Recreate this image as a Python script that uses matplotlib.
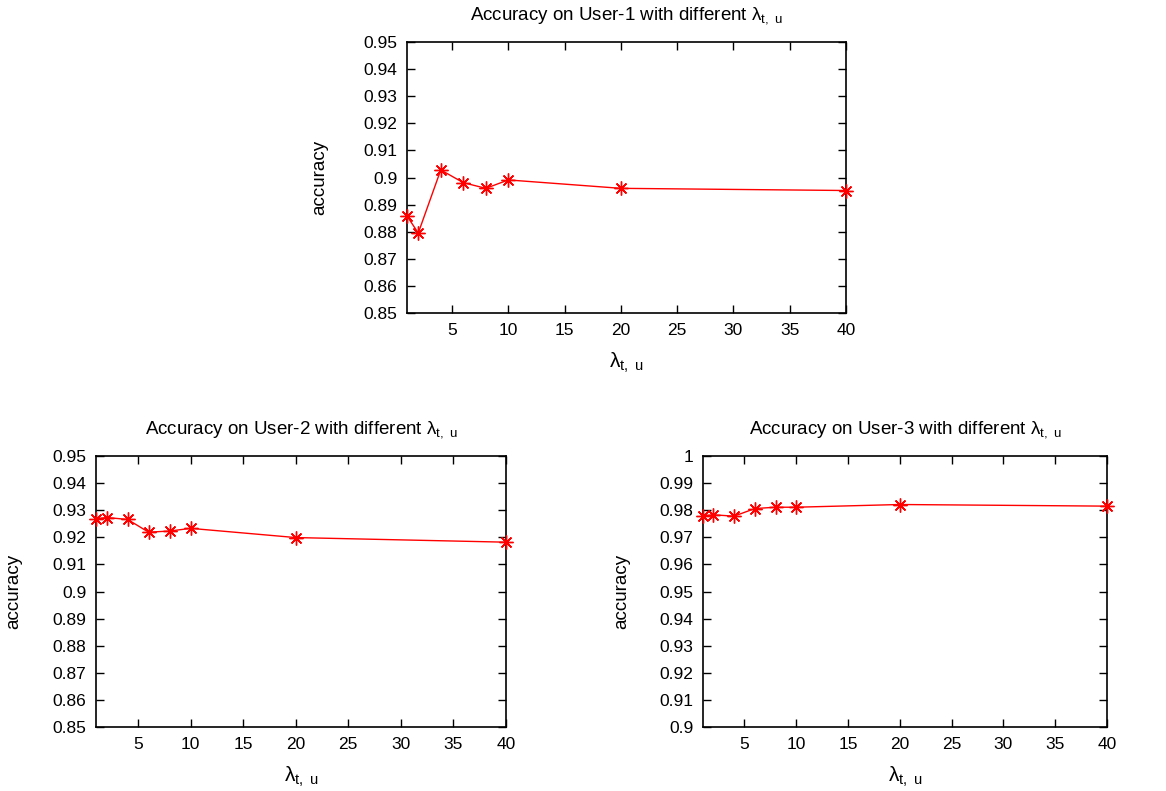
import matplotlib
matplotlib.use("Agg")
import matplotlib.pyplot as plt

plt.rcParams['font.family'] = ['Liberation Sans', 'DejaVu Sans']
plt.rcParams['mathtext.fontset'] = 'custom'
plt.rcParams['mathtext.rm'] = 'Liberation Sans'
plt.rcParams['mathtext.it'] = 'Liberation Sans:italic'

lam = [1, 2, 4, 6, 8, 10, 20, 40]
acc_user1 = [0.8858, 0.8795, 0.9028, 0.8981, 0.8960, 0.8991, 0.8960, 0.8952]
acc_user2 = [0.9268, 0.9273, 0.9266, 0.9219, 0.9223, 0.9233, 0.9199, 0.9182]
acc_user3 = [0.9778, 0.9783, 0.9778, 0.9806, 0.9811, 0.9811, 0.9821, 0.9815]

xticks = [5, 10, 15, 20, 25, 30, 35, 40]
yticks12 = [0.85, 0.86, 0.87, 0.88, 0.89, 0.90, 0.91, 0.92, 0.93, 0.94, 0.95]
yticks3 = [0.90, 0.91, 0.92, 0.93, 0.94, 0.95, 0.96, 0.97, 0.98, 0.99, 1.0]
titles = ["Accuracy on User-1 with different ",
          "Accuracy on User-2 with different ",
          "Accuracy on User-3 with different "]
lam_label = r'λ$_{\mathrm{t,\ u}}$'

W, H = 1166, 791
fig = plt.figure(figsize=(W / 100, H / 100), dpi=100)

boxes = [(407, 42, 846, 313), (96, 456, 506, 727), (703, 456, 1107, 727)]
datasets = [acc_user1, acc_user2, acc_user3]
yticksets = [yticks12, yticks12, yticks3]


def fmt(v):
    s = f"{v:.2f}".rstrip('0').rstrip('.')
    return s


for (l, t, r, b), acc, yt, title in zip(boxes, datasets, yticksets, titles):
    ax = fig.add_axes([l / W, (H - b) / H, (r - l) / W, (b - t) / H])
    ax.plot(lam, acc, color='#ff0000', lw=1.0, marker=(8, 2, 0),
            markersize=10, markeredgewidth=1.0, clip_on=False, zorder=3)
    ax.set_xlim(1, 40)
    ax.set_ylim(yt[0], yt[-1])
    ax.set_xticks(xticks)
    ax.set_xticklabels([str(v) for v in xticks])
    ax.set_yticks(yt)
    ax.set_yticklabels([fmt(v) for v in yt])
    ax.tick_params(direction='in', length=6, width=1.0, top=True, right=True,
                   labelsize=12.5, pad=7, colors='black')
    for s in ax.spines.values():
        s.set_linewidth(1.2)
        s.set_color('black')
    ax.set_title(title + lam_label, fontsize=13.5, pad=16)
    ax.set_xlabel(lam_label, fontsize=15)
    ax.set_ylabel('accuracy', fontsize=13.5)
    ax.xaxis.set_label_coords(0.5, -0.14)
    ax.yaxis.set_label_coords(-0.179, 0.5)

fig.savefig('out.png', dpi=100)
